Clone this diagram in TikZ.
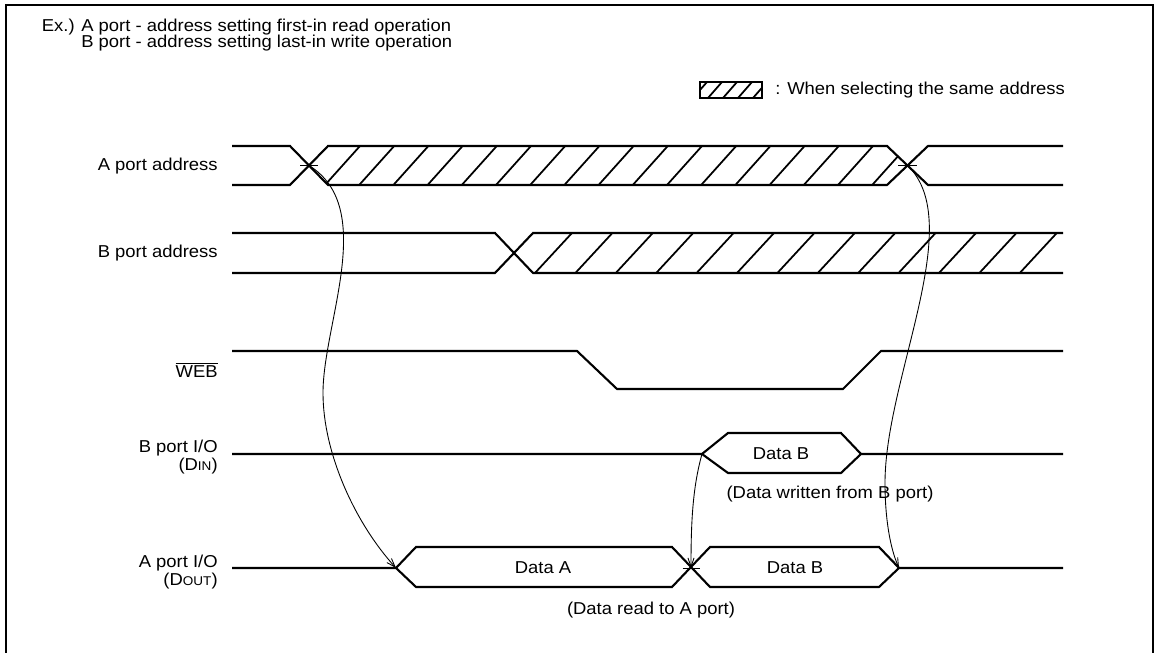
\documentclass[tikz,border=0pt]{standalone}
\usepackage{fontspec}
\setmainfont{Liberation Sans}[FakeStretch=1.07]
\usetikzlibrary{arrows.meta}
\newcommand{\sigsub}[1]{{\fontsize{7.2}{8}\selectfont #1}}

\begin{document}
\begin{tikzpicture}[
    sig/.style={line width=1.2pt},
    hatch/.style={line width=1pt},
    hairline/.style={line width=0.5pt},
    arr/.style={line width=0.5pt, -{Straight Barb[length=5pt,width=3.5pt]}},
    lbl/.style={anchor=east, align=right},
    every node/.style={font=\fontsize{9.8}{10.4}\selectfont, inner sep=0pt}
]
    \useasboundingbox (0,0) rectangle (23.26,13.06);
    % frame
    \draw[line width=1.3pt] (0.12,-0.5) -- (0.12,12.96) -- (23.06,12.96) -- (23.06,-0.5);

    % title
    \node[anchor=east] (ex) at (1.50,12.52) {Ex.)};
    \node[anchor=west] (title1) at (1.62,12.52) {A port - address setting first-in read operation};
    \node[anchor=west] (title2) at (1.62,12.20) {B port - address setting last-in write operation};

    % legend
    \begin{scope}
        \clip (14.00,11.10) rectangle (15.24,11.42);
        \foreach \x in {13.86,14.16,14.46,14.76,15.06}
            \draw[hatch] (\x,11.10) -- ++(0.28,0.32);
    \end{scope}
    \draw[line width=0.8pt] (14.00,11.10) rectangle (15.24,11.42);
    \node[anchor=west] (legend) at (15.50,11.26) {: When selecting the same address};

    % signal names
    \node[lbl] (aaddr) at (4.36,9.74) {A port address};
    \node[lbl] (baddr) at (4.36,8.00) {B port address};
    \node[lbl] (web) at (4.36,5.66) {$\overline{\mbox{WEB}}$};
    \node[lbl] (bio) at (4.36,3.92) {B port I/O\\(D\sigsub{IN})};
    \node[lbl] (aio) at (4.36,1.62) {A port I/O\\(D\sigsub{OUT})};

    % hatched areas
    \begin{scope}
        \clip (6.18,9.75) -- (6.56,10.14) -- (17.74,10.14) -- (18.15,9.75) -- (17.74,9.36) -- (6.56,9.36) -- cycle;
        \foreach \k in {0,...,17}
            \draw[hatch] ({6.50+0.684*\k},9.36) -- ++(0.70,0.78);
    \end{scope}
    \begin{scope}
        \clip (10.28,8.00) -- (10.66,8.40) -- (21.26,8.40) -- (21.26,7.60) -- (10.66,7.60) -- cycle;
        \foreach \k in {0,...,12}
            \draw[hatch] ({10.70+0.808*\k},7.60) -- ++(0.74,0.80);
    \end{scope}

    % A port address
    \draw[sig] (4.64,10.14) -- (5.80,10.14) -- (6.56,9.36) -- (17.74,9.36) -- (18.56,10.14) -- (21.26,10.14);
    \draw[sig] (4.64,9.36) -- (5.80,9.36) -- (6.56,10.14) -- (17.74,10.14) -- (18.56,9.36) -- (21.26,9.36);
    % B port address
    \draw[sig] (4.64,8.40) -- (9.90,8.40) -- (10.66,7.60) -- (21.26,7.60);
    \draw[sig] (4.64,7.60) -- (9.90,7.60) -- (10.66,8.40) -- (21.26,8.40);
    % WEB
    \draw[sig] (4.64,6.04) -- (11.54,6.04) -- (12.34,5.28) -- (16.86,5.28) -- (17.62,6.04) -- (21.26,6.04);
    % B port I/O
    \draw[sig] (4.64,3.98) -- (14.04,3.98) -- (14.56,4.40) -- (16.82,4.40) -- (17.22,3.98) -- (21.26,3.98);
    \draw[sig] (14.04,3.98) -- (14.56,3.60) -- (16.82,3.60) -- (17.22,3.98);
    % A port I/O
    \draw[sig] (4.64,1.70) -- (7.92,1.70) -- (8.32,2.12) -- (13.44,2.12) -- (14.20,1.32) -- (17.58,1.32) -- (17.98,1.70) -- (21.26,1.70);
    \draw[sig] (7.92,1.70) -- (8.32,1.32) -- (13.44,1.32) -- (14.20,2.12) -- (17.58,2.12) -- (17.98,1.70);

    \node (dataA) at (10.86,1.70) {Data A};
    \node (dataBin) at (15.62,3.98) {Data B};
    \node (dataBout) at (15.90,1.70) {Data B};
    \node (capB) at (16.60,3.18) {(Data written from B port)};
    \node (capA) at (13.02,0.86) {(Data read to A port)};

    % arrow ends
    \coordinate (aL) at (6.18,9.75);
    \coordinate (aR) at (18.15,9.75);
    \coordinate (bIn) at (14.04,3.98);
    \coordinate (tipA) at (7.92,1.70);
    \coordinate (tipB) at (17.98,1.70);
    \coordinate (xAB) at (13.82,1.70);

    \draw[hairline] ([xshift=-0.18cm]aL) -- ([xshift=0.18cm]aL);
    \draw[hairline] ([xshift=-0.19cm]aR) -- ([xshift=0.19cm]aR);
    \draw[hairline] ([xshift=-0.17cm]xAB) -- ([xshift=0.17cm]xAB);

    \draw[arr] (aL) .. controls (7.55,8.9) and (6.46,6.6) .. (6.46,5.2)
        .. controls (6.46,4.0) and (7.1,2.6) .. (tipA);
    \draw[arr] (aR) .. controls (19.35,8.6) and (17.7,5.5) .. (17.70,3.4)
        .. controls (17.70,2.7) and (17.80,2.1) .. (tipB);
    \draw[arr] (bIn) .. controls (13.85,3.3) and (13.82,2.6) .. (xAB);
\end{tikzpicture}
\end{document}
